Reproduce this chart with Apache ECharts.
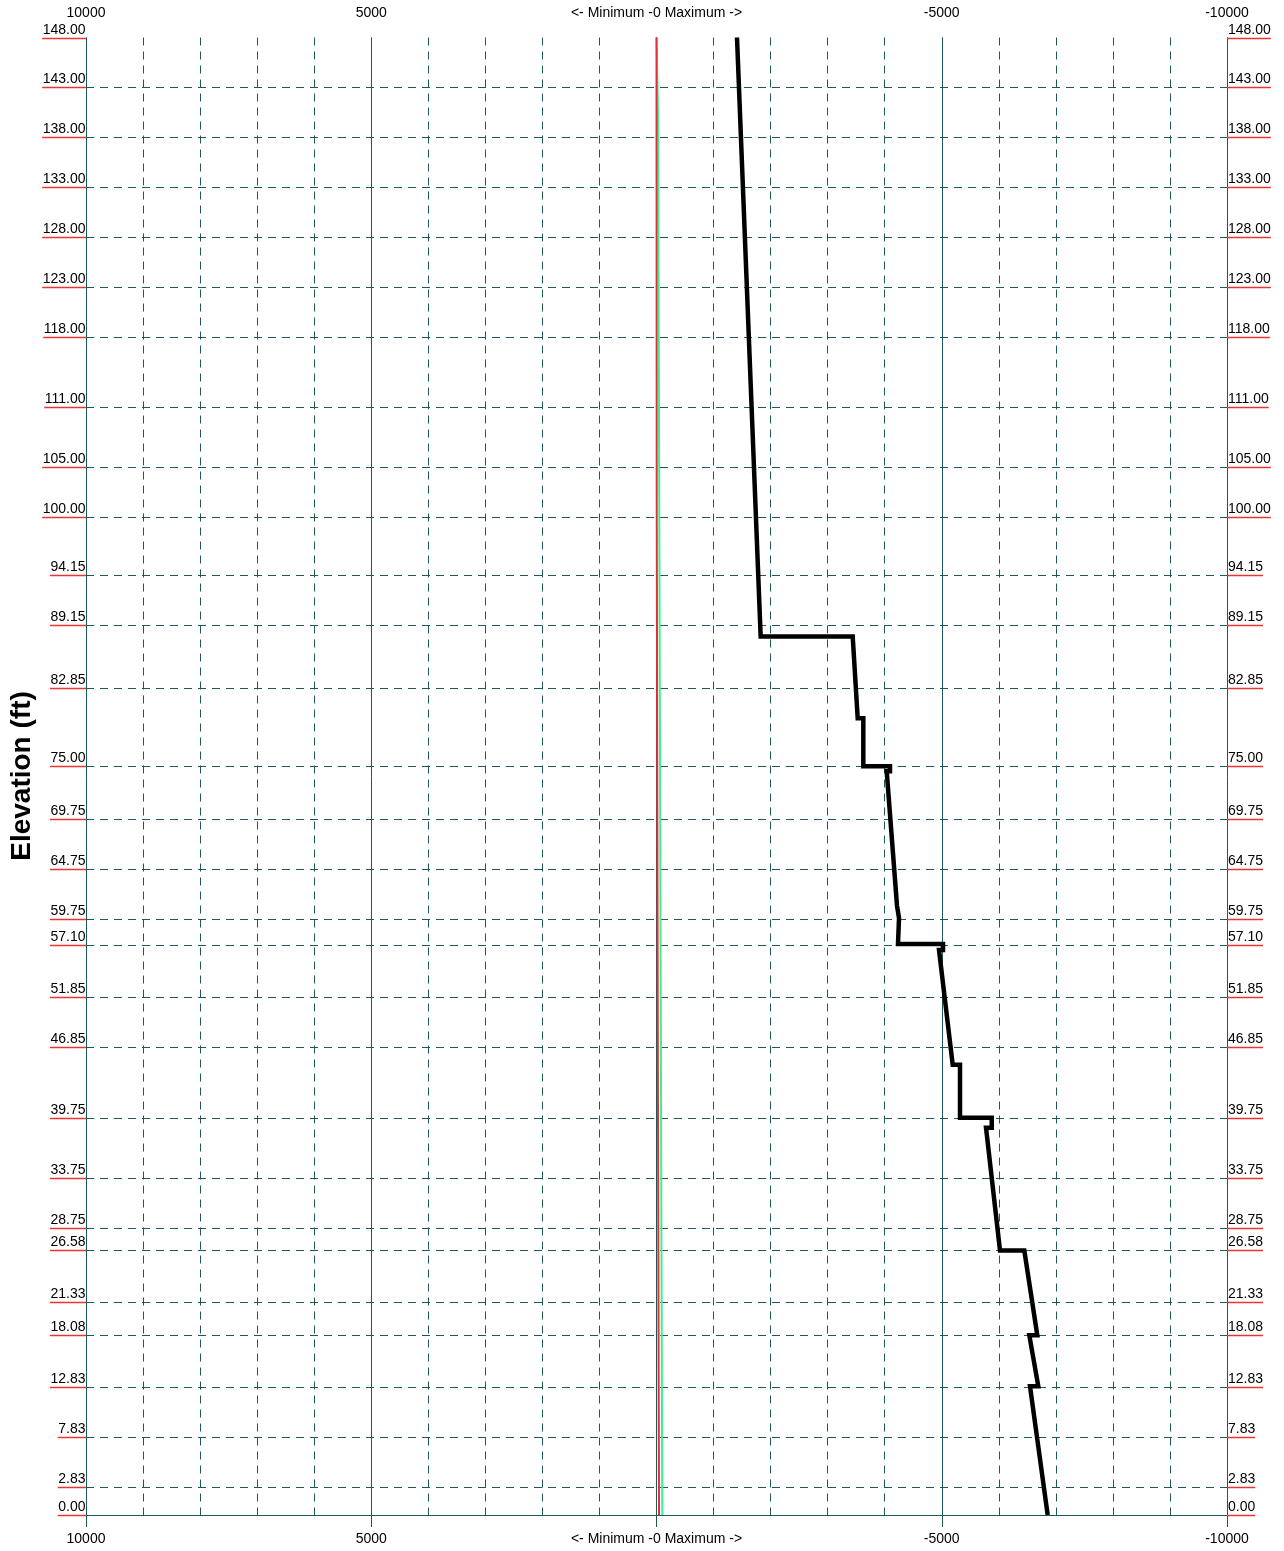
<!DOCTYPE html>
<html><head><meta charset="utf-8">
<script src="https://cdn.jsdelivr.net/npm/echarts@6/dist/echarts.min.js"></script>
<style>html,body{margin:0;padding:0;background:#fff}#c{width:1284px;height:1551px}</style>
</head><body><div id="c"></div>
<script>
// ---- data ----
const elevTicks = [148,143,138,133,128,123,118,111,105,100,94.15,89.15,82.85,75,69.75,64.75,59.75,57.10,51.85,46.85,39.75,33.75,28.75,26.58,21.33,18.08,12.83,7.83,2.83,0];
const xTickValues = [10000, 5000, 0, -5000, -10000];
const xTickLabels = ['10000', '5000', '<- Minimum -0 Maximum ->', '-5000', '-10000'];
const blackElev = [148, 88, 88, 79.8, 79.8, 75, 75, 74.5, 74.5, 61, 59.8, 57.2, 57.2, 56.6, 56.6, 45.1, 45.1, 39.8, 39.8, 38.8, 38.8, 26.5, 26.5, 18, 18, 12.9, 12.9, 0];
const blackVal  = [-1411, -1826, -3439, -3527, -3625, -3625, -4093, -4093, -4035, -4216, -4251, -4233, -5022, -5022, -4952, -5192, -5320, -5320, -5876, -5876, -5776, -6021, -6447, -6675, -6535, -6692, -6547, -6857];
const redElev = [148, 101, 52, 0];
const redVal  = [0, -4, -21, -44];
const greenElev = [148, 140, 100, 52, 0];
const greenVal  = [-2, -28, -49, -74, -102];

// ---- styles ----
const GRID = '#1e5858';
const FONTFAM = '"Liberation Sans", Arial, sans-serif';
const FONT = '14px ' + FONTFAM;
const mctx = document.createElement('canvas').getContext('2d');
mctx.font = FONT;

function zip(vals, elevs){ return vals.map((v,i)=>[v, elevs[i]]); }

function renderTick(params, api){
  const e = api.value(1);
  const pl = api.coord([10000, e]);
  const pr = api.coord([-10000, e]);
  const y = Math.round(pl[1]) + 0.5;
  const txt = e.toFixed(2);
  const w = mctx.measureText(txt).width;
  const ch = [];
  if (e !== 0 && e !== 148) {
    ch.push({type:'line', shape:{x1:pl[0], y1:y, x2:pr[0], y2:y}, style:{stroke:GRID, lineWidth:1, lineDash:[8,6]}});
  }
  ch.push({type:'line', shape:{x1:pl[0]-w-1, y1:y, x2:pl[0], y2:y}, style:{stroke:'#ec3434', lineWidth:1.5}});
  ch.push({type:'line', shape:{x1:pr[0], y1:y, x2:pr[0]+w+1, y2:y}, style:{stroke:'#ec3434', lineWidth:1.5}});
  ch.push({type:'text', x:pl[0]-0.5, y:y-1, style:{text:txt, font:FONT, fill:'#000', align:'right', verticalAlign:'bottom'}});
  ch.push({type:'text', x:pr[0]+1, y:y-1, style:{text:txt, font:FONT, fill:'#000', align:'left', verticalAlign:'bottom'}});
  return {type:'group', children:ch};
}

function labelFmt(v){
  const i = xTickValues.indexOf(v);
  return i >= 0 ? xTickLabels[i] : '';
}

const baseX = {type:'value', min:-10000, max:10000, inverse:true};
const chart = echarts.init(document.getElementById('c'), null, {renderer:'canvas'});
chart.setOption({
  animation:false,
  backgroundColor:'#fff',
  grid:{left:86, right:57, top:37.5, bottom:36, containLabel:false},
  xAxis:[
    Object.assign({}, baseX, {position:'top', interval:5000,
      axisLine:{show:true, lineStyle:{color:GRID, width:1}},
      axisTick:{show:true, length:15, lineStyle:{color:GRID}},
      axisLabel:{show:true, margin:17, formatter:labelFmt, color:'#000', fontSize:14, fontFamily:FONTFAM, showMinLabel:true, showMaxLabel:true},
      splitLine:{show:true, lineStyle:{color:GRID, width:1, type:'solid'}}}),
    Object.assign({}, baseX, {position:'bottom', interval:5000,
      axisLine:{show:true, lineStyle:{color:GRID, width:1}},
      axisTick:{show:true, length:12, lineStyle:{color:GRID}},
      axisLabel:{show:true, margin:17, formatter:labelFmt, color:'#000', fontSize:14, fontFamily:FONTFAM, showMinLabel:true, showMaxLabel:true},
      splitLine:{show:false}}),
    Object.assign({}, baseX, {position:'bottom', interval:1000, offset:0,
      axisLine:{show:false}, axisTick:{show:false}, axisLabel:{show:false},
      splitLine:{show:true, lineStyle:{color:GRID, width:1, type:[8,6]}}})
  ],
  yAxis:[
    {type:'value', min:0, max:148, position:'left',
      axisLine:{show:true, lineStyle:{color:GRID}}, axisTick:{show:false}, axisLabel:{show:false}, splitLine:{show:false}},
    {type:'value', min:0, max:148, position:'right',
      axisLine:{show:true, lineStyle:{color:GRID}}, axisTick:{show:false}, axisLabel:{show:false}, splitLine:{show:false}}
  ],
  graphic:[{type:'text', x:22, y:776, rotation:Math.PI/2,
    style:{text:'Elevation (ft)', font:'bold 28px ' + FONTFAM, fill:'#000', align:'center', verticalAlign:'middle'}}],
  series:[
    {type:'custom', xAxisIndex:0, yAxisIndex:0, clip:false, z:1,
      renderItem:renderTick, data:elevTicks.map(e=>[0,e]), encode:{x:0, y:1}},
    {type:'line', xAxisIndex:0, yAxisIndex:0, data:zip(greenVal, greenElev), symbol:'none',
      lineStyle:{color:'#3ef08c', width:2}, z:3},
    {type:'line', xAxisIndex:0, yAxisIndex:0, data:zip(redVal, redElev), symbol:'none',
      lineStyle:{color:'#e0303a', width:2}, z:4},
    {type:'line', xAxisIndex:0, yAxisIndex:0, data:zip(blackVal, blackElev), symbol:'none',
      lineStyle:{color:'#000', width:4.5, join:'miter'}, z:5}
  ]
});
</script></body></html>
